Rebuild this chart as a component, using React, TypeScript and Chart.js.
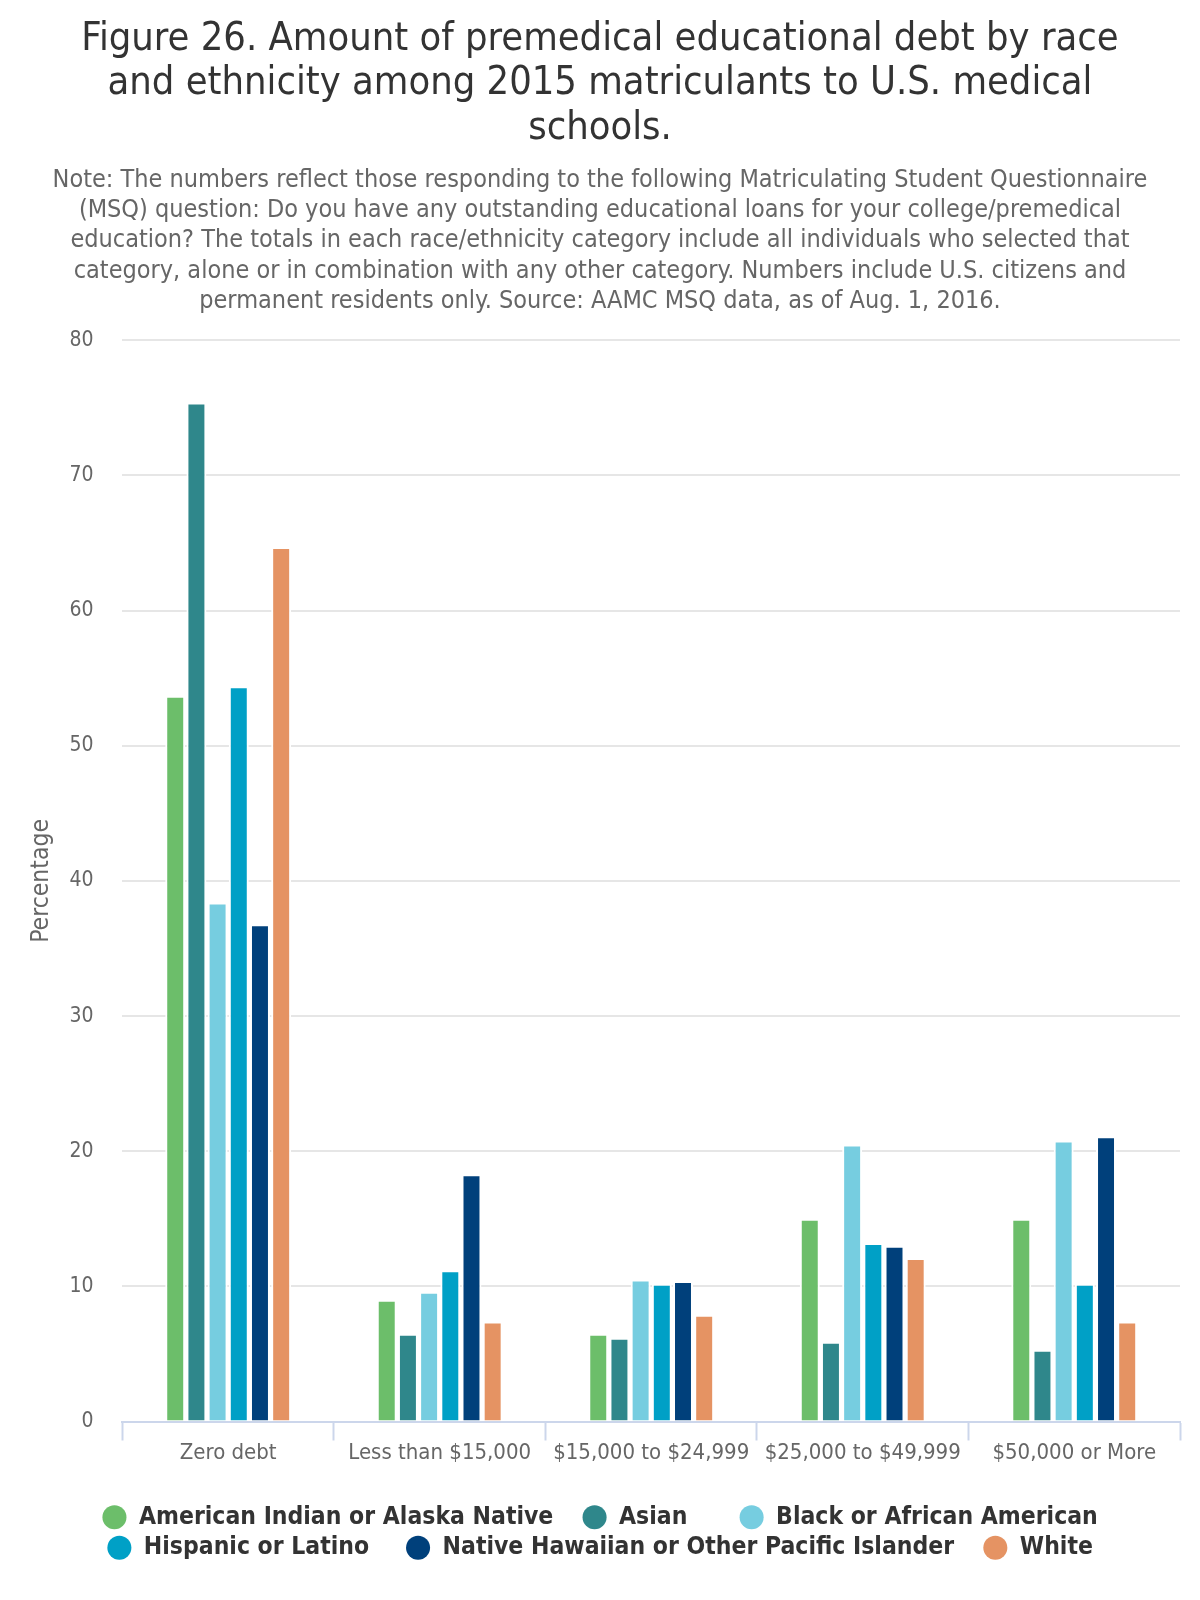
import { useEffect, useRef } from "react";
import { Chart, registerables } from "chart.js";

Chart.register(...registerables);

const categories = [
  "Zero debt",
  "Less than $15,000",
  "$15,000 to $24,999",
  "$25,000 to $49,999",
  "$50,000 or More",
];

const seriesNames = [
  "American Indian or Alaska Native",
  "Asian",
  "Black or African American",
  "Hispanic or Latino",
  "Native Hawaiian or Other Pacific Islander",
  "White",
];

const americanIndian = [53.7, 9.0, 6.5, 15.0, 15.0];
const asian = [75.4, 6.5, 6.2, 5.9, 5.3];
const black = [38.4, 9.6, 10.5, 20.5, 20.8];
const hispanic = [54.4, 11.2, 10.2, 13.2, 10.2];
const nativeHawaiian = [36.8, 18.3, 10.4, 13.0, 21.1];
const white = [64.7, 7.4, 7.9, 12.1, 7.4];

const seriesValues = [americanIndian, asian, black, hispanic, nativeHawaiian, white];
const seriesColors = ["#6CBE6A", "#2F878B", "#76CDE0", "#00A0C6", "#00407B", "#E59363"];
// invisible trailing spacing after each legend entry (layout only)
const legendGapSpaces = [3, 6, 0, 4, 3, 0];

const titleLines = [
  "Figure 26. Amount of premedical educational debt by race",
  "and ethnicity among 2015 matriculants to U.S. medical",
  "schools.",
];

const subtitleLines = [
  "Note: The numbers reflect those responding to the following Matriculating Student Questionnaire",
  "(MSQ) question: Do you have any outstanding educational loans for your college/premedical",
  "education? The totals in each race/ethnicity category include all individuals who selected that",
  "category, alone or in combination with any other category. Numbers include U.S. citizens and",
  "permanent residents only. Source: AAMC MSQ data, as of Aug. 1, 2016.",
];

const yAxisTitle = "Percentage";
const yMin = 0;
const yMax = 80;
const yStep = 10;

const FONT = "'DejaVu Sans Condensed', 'DejaVu Sans', sans-serif";

export default function App() {
  const ref = useRef<HTMLCanvasElement>(null);

  useEffect(() => {
    document.body.style.margin = "0";
    const canvas = ref.current;
    if (!canvas) return;
    const chart = new Chart(canvas, {
      type: "bar",
      data: {
        labels: categories,
        datasets: seriesNames.map((name, i) => ({
          label: name,
          data: seriesValues[i],
          backgroundColor: seriesColors[i],
          borderColor: "#ffffff",
          borderWidth: 2,
          borderSkipped: "start",
          categoryPercentage: 0.601,
          barPercentage: 0.943,
        })),
      },
      options: {
        animation: false,
        responsive: false,
        devicePixelRatio: 1,
        layout: { padding: { left: 20, right: 20, top: 0, bottom: 30 } },
        plugins: {
          title: {
            display: true,
            text: titleLines,
            color: "#333333",
            font: { family: FONT, size: 39.5, weight: "normal", lineHeight: 1.12 },
            padding: { top: 17.85, bottom: 14.5 },
          },
          subtitle: {
            display: true,
            text: subtitleLines,
            color: "#666666",
            font: { family: FONT, size: 25, weight: "normal", lineHeight: 1.212 },
            padding: { top: 0, bottom: 23.75 },
          },
          legend: {
            position: "bottom",
            labels: {
              usePointStyle: true,
              pointStyle: "circle",
              boxWidth: 24.5,
              boxHeight: 17,
              padding: 6,
              color: "#333333",
              font: { family: FONT, size: 24.5, weight: "bold" },
              generateLabels: (c: any) =>
                Chart.defaults.plugins.legend.labels
                  .generateLabels(c)
                  .map((l: any, i: number) => ({
                    ...l,
                    text: l.text + " ".repeat(legendGapSpaces[i] || 0),
                    lineWidth: 0,
                    strokeStyle: l.fillStyle,
                  })),
            },
          },
          tooltip: { enabled: false },
        },
        scales: {
          x: {
            grid: {
              display: true,
              drawOnChartArea: false,
              drawTicks: true,
              tickLength: 19,
              tickColor: "#ccd6eb",
              tickWidth: 2,
              offset: true,
            },
            border: { display: true, color: "#ccd6eb", width: 2 },
            ticks: {
              padding: 0,
              color: "#666666",
              font: { family: FONT, size: 22 },
              maxRotation: 0,
              autoSkip: false,
            },
            title: {
              display: true,
              text: "",
              font: { size: 10, lineHeight: 1.2 },
              padding: { top: 0, bottom: 20.1 },
            },
          },
          y: {
            min: yMin,
            max: yMax,
            ticks: {
              stepSize: yStep,
              padding: 3,
              color: "#666666",
              font: { family: FONT, size: 21 },
            },
            grid: {
              color: "#e6e6e6",
              lineWidth: 2,
              drawTicks: true,
              tickLength: 26,
              tickColor: "rgba(0,0,0,0)",
            },
            border: { display: false },
            title: {
              display: true,
              text: yAxisTitle,
              color: "#666666",
              font: { family: FONT, size: 24.5 },
              padding: { top: 7.4, bottom: 9.6 },
            },
          },
        },
      },
    } as any);
    return () => chart.destroy();
  }, []);

  return (
    <div style={{ width: 1200, height: 1600 }}>
      <canvas ref={ref} width={1200} height={1600} />
    </div>
  );
}
